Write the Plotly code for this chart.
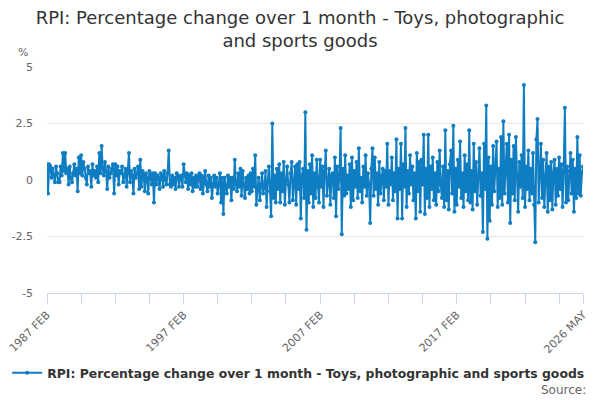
import pandas as pd
import plotly.graph_objects as go

start_month = "1987-02-01"
series_name = "RPI: Percentage change over 1 month - Toys, photographic and sports goods"

v1987 = [0.7, -0.6, 0.7, 0.6, 0.1, 0.5, 0.2, -0.1, 0.6, 0.3, -0.1]
v1988 = [-0.1, 0.6, 0.2, 1.2, 0.4, 1.2, 0.3, 0.5, -0.2, 0.6, 0.1, -0.1]
v1989 = [0.3, 0.7, 0.2, 0.5, -0.5, 1.0, 0.3, 1.1, 0.2, 0.8, 0.5, 0.1]
v1990 = [-0.2, 0.6, 0.3, 0.4, -0.3, 0.7, 0.2, 0.4, 0.1, 0.6, -0.1, 1.2]
v1991 = [0.3, 1.5, 0.5, 0.2, 0.8, 0.4, -0.4, 0.6, 0.1, 0.3, 0.5, 0.7]
v1992 = [-0.6, 0.7, 0.2, 0.6, -0.2, 0.4, 0.3, 0.6, -0.1, 0.2, 0.5, -0.3]
v1993 = [0.3, 1.2, -0.1, 0.4, 0.2, -0.6, 0.5, 0.1, 0.3, 0.6, -0.4, 0.9]
v1994 = [-0.3, 0.4, 0.2, -0.5, 0.3, 0.1, -0.6, 0.4, 0.2, -0.2, 0.3, -1.0]
v1995 = [0.3, -0.2, 0.2, 0.1, -0.4, 0.3, 0.2, -0.3, 0.4, 0.0, -0.2, 0.3]
v1996 = [1.3, -0.2, -0.3, 0.2, -0.2, 0.1, -0.4, 0.3, 0.2, -0.3, 0.1, 0.2]
v1997 = [-0.3, 0.7, 0.2, -0.1, 0.3, -0.4, 0.2, -0.2, 0.3, -0.5, 0.1, -0.3]
v1998 = [0.2, -0.3, 0.1, 0.3, -0.4, 0.2, -0.6, 0.1, 0.4, -0.2, -0.5, 0.2]
v1999 = [-0.3, 0.1, -0.8, -0.2, 0.2, -0.3, 0.1, -0.6, -0.2, 0.3, -1.0, 0.1]
v2000 = [-1.5, 0.1, -0.3, -0.6, 0.2, -0.3, 0.1, -0.9, 0.1, -0.4, 0.9, -0.2]
v2001 = [-0.5, 0.3, -0.3, 0.5, -0.7, 0.4, -0.2, -0.8, 0.1, -0.4, 0.2, -0.6]
v2002 = [0.3, -0.5, 0.5, -0.3, 1.1, -1.1, -0.4, 0.1, -0.9, -0.2, 0.3, -0.6]
v2003 = [-0.3, 0.4, -1.2, -0.1, 0.6, -0.5, -1.6, 2.5, -0.8, 0.2, -1.0, 0.5]
v2004 = [-0.4, 0.7, -1.0, 0.3, -0.5, 0.8, -1.1, 0.0, 0.6, -0.2, -1.0, 0.3]
v2005 = [0.8, -0.9, -0.1, 0.6, -1.1, 0.7, -0.4, 0.8, -1.7, 0.2, 0.5, -0.8]
v2006 = [3.0, -2.2, 0.4, -1.0, 0.7, -0.6, 1.1, -1.2, 0.3, -0.8, 0.9, -0.3]
v2007 = [-1.0, 0.9, -0.3, 0.6, -1.2, 0.4, 1.3, -0.7, -0.2, 0.5, -1.1, 0.2]
v2008 = [0.3, -0.8, 1.0, -1.6, 0.6, -0.4, 0.1, 2.3, -2.4, 0.5, -0.7, 1.1]
v2009 = [-0.6, 0.2, -0.4, 0.7, -1.2, 1.0, -0.9, 0.4, -0.3, 0.8, -0.8, 1.4]
v2010 = [-0.5, 0.1, -1.0, 0.6, -0.3, 1.1, -0.7, 0.3, -0.2, -1.9, 0.5, 1.4]
v2011 = [-0.7, 1.0, -0.4, 0.3, -1.1, 0.8, -0.6, 0.2, 0.5, -0.9, 0.4, -0.3]
v2012 = [1.6, -1.1, 0.4, -0.2, 1.0, -0.9, 0.3, -0.5, 1.8, -1.7, 0.5, -0.4]
v2013 = [1.6, -1.7, 0.7, -0.3, 2.3, -1.2, 0.4, -0.6, 1.1, -0.2, 0.6, -0.9]
v2014 = [0.3, -1.7, 1.2, -0.5, 0.8, -1.4, 0.9, -0.2, 2.0, -1.5, 0.5, -0.8]
v2015 = [2.0, -1.2, 0.6, -0.4, 1.0, -0.9, 0.3, -1.1, 0.8, -0.5, 1.3, -0.2]
v2016 = [-0.8, 0.6, -1.2, 2.2, -0.9, 0.4, -1.3, 0.7, 1.3, -0.6, 2.4, -1.4]
v2017 = [0.5, -1.1, 0.9, -0.3, 1.7, -0.8, 0.3, -1.2, 1.1, -0.5, 0.7, -0.9]
v2018 = [2.2, -1.0, 0.4, -1.3, 1.6, -0.5, 0.8, -1.1, 0.2, 1.4, -0.7, 0.3]
v2019 = [-2.3, 1.6, -0.4, 3.3, -2.6, 1.0, -1.8, 0.6, -1.1, 1.5, -0.5, 0.4]
v2020 = [1.7, -1.2, 0.5, -0.8, 1.9, -1.1, 2.6, -0.6, 0.3, 1.6, -1.0, 2.0]
v2021 = [-1.9, 0.9, -0.6, 1.5, -0.9, 1.9, 0.2, -1.4, 0.8, -0.3, 1.1, -0.8]
v2022 = [4.2, -1.2, 0.6, -0.4, 1.3, -0.9, 0.5, -0.6, 1.2, -1.1, -2.75, 1.8]
v2023 = [2.7, -1.0, 0.4, 1.6, -0.8, 0.9, -1.2, 0.2, 1.2, -1.4, 0.6, -0.9]
v2024 = [0.8, -1.3, 0.3, 0.9, -1.1, 0.5, -0.7, 1.0, -0.4, 0.7, -1.2, 0.4]
v2025 = [3.2, -1.0, 0.6, -0.9, 0.4, 1.2, -0.6, 0.9, -1.4, 0.5, -0.8, 1.9]
v2026 = [-0.6, 1.1, -0.7, 0.3, 0.6]

values = (v1987 + v1988 + v1989 + v1990 + v1991 + v1992 + v1993 + v1994 + v1995
          + v1996 + v1997 + v1998 + v1999 + v2000 + v2001 + v2002 + v2003 + v2004
          + v2005 + v2006 + v2007 + v2008 + v2009 + v2010 + v2011 + v2012 + v2013
          + v2014 + v2015 + v2016 + v2017 + v2018 + v2019 + v2020 + v2021 + v2022
          + v2023 + v2024 + v2025 + v2026)
months = pd.date_range(start_month, periods=len(values), freq="MS")

x_tick_vals = ["1987-02-01", "1997-02-01", "2007-02-01", "2017-02-01", "2026-05-01"]
x_tick_text = ["1987 FEB", "1997 FEB", "2007 FEB", "2017 FEB", "2026 MAY"]
y_tick_vals = [-5, -2.5, 0, 2.5, 5]
y_tick_text = ["-5", "-2.5", "0", "2.5", "5"]

color = "#0f7dc2"
font = "DejaVu Sans"

fig = go.Figure()
fig.add_trace(go.Scatter(
    x=months, y=values, mode="lines+markers", name=series_name,
    line=dict(color=color, width=2),
    marker=dict(color=color, size=4),
))

fig.update_layout(
    width=600, height=400,
    paper_bgcolor="white", plot_bgcolor="white",
    margin=dict(l=47, r=17, t=67, b=107),
    font=dict(family=font, color="#666666", size=11),
    title=dict(
        text="RPI: Percentage change over 1 month - Toys, photographic<br>and sports goods",
        x=0.5, xanchor="center", y=0.94, yanchor="top",
        font=dict(family=font, size=18, color="#333333"),
    ),
    showlegend=True,
    legend=dict(
        orientation="h", xref="container", x=0.497, xanchor="center",
        yref="container", y=0.067, yanchor="middle",
        font=dict(family=font, size=12.4, color="#333333", weight="bold"),
        itemwidth=30,
    ),
    xaxis=dict(
        type="date", automargin=False,
        range=[months[0], months[-1]],
        tickvals=x_tick_vals, ticktext=x_tick_text,
        tickangle=-45,
        showgrid=False, zeroline=False,
        showline=True, linecolor="#ccd6eb", linewidth=1,
        ticks="outside", ticklen=10, tickcolor="#ccd6eb",
        minor=dict(tick0="1987-02-01", dtick="M30", ticks="outside",
                   ticklen=10, tickcolor="#ccd6eb", showgrid=False),
        tickfont=dict(size=11, color="#666666"),
    ),
    yaxis=dict(
        range=[-5, 5], automargin=False,
        tickvals=y_tick_vals, ticktext=y_tick_text,
        showgrid=True, gridcolor="#e6e6e6", gridwidth=1,
        zeroline=False, showline=False,
        ticks="", ticklabelstandoff=13,
        tickfont=dict(size=11, color="#666666"),
    ),
    annotations=[
        dict(text="%", xref="paper", yref="paper", x=-0.045, y=1.066,
             xanchor="center", yanchor="middle", showarrow=False,
             font=dict(family=font, size=11, color="#666666")),
        dict(text="Source:", xref="paper", yref="paper", x=1.0093, y=-0.429,
             xanchor="right", yanchor="middle", showarrow=False,
             font=dict(family=font, size=12, color="#666666")),
    ],
)

fig.write_html("out.html", config={"displayModeBar": False},
               post_script="document.body.style.margin='0';document.body.style.overflow='hidden';")
